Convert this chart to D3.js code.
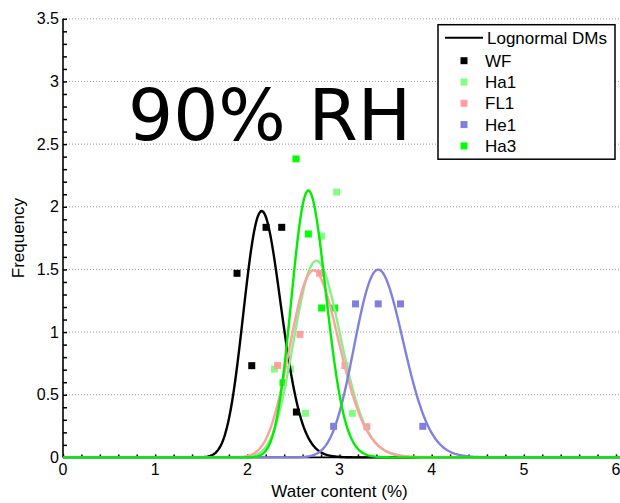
<!DOCTYPE html>
<html>
<head>
  <title>Water content 90% RH</title>
  <script src="https://cdn.jsdelivr.net/npm/d3@7"></script>
  <style>
    body { margin: 0; background: #fff; }
    text { font-family: "Liberation Sans", Arial, sans-serif; fill: #000; }
  </style>
</head>
<body>
  <div id="chart"></div>
  <script>
    // series names and colours (legend order)
    const seriesNames = ["WF", "Ha1", "FL1", "He1", "Ha3"];
    const pointColors = ["#000000", "#80ff80", "#ff9f9f", "#7f7fdf", "#00ff00"];
    const lineColors = ["#000000", "#88f088", "#ff9f9f", "#8080e0", "#00ee00"];

    // measured frequencies (x = water content %, y = frequency)
    const wfX = [1.888, 2.048, 2.203, 2.373, 2.532];
    const wfY = [1.469, 0.732, 1.836, 1.836, 0.362];
    const ha1X = [2.294, 2.467, 2.630, 2.806, 2.969, 3.139];
    const ha1Y = [0.705, 0.705, 0.352, 1.765, 2.117, 0.352];
    const fl1X = [2.329, 2.571, 2.784, 3.059, 3.297];
    const fl1Y = [0.733, 0.982, 1.470, 0.733, 0.245];
    const he1X = [2.936, 3.174, 3.420, 3.662, 3.904];
    const he1Y = [0.248, 1.225, 1.225, 1.225, 0.248];
    const ha3X = [2.387, 2.528, 2.662, 2.806, 2.947];
    const ha3Y = [0.596, 2.382, 1.783, 1.192, 1.192];

    // fitted lognormal distributions: mode and log-sigma per series
    const fitMode = [2.156, 2.749, 2.719, 3.420, 2.662];
    const fitSigma = [0.0937, 0.0921, 0.0978, 0.0776, 0.0702];

    const xTicks = [0, 1, 2, 3, 4, 5, 6];
    const yTicks = [0, 0.5, 1, 1.5, 2, 2.5, 3, 3.5];

    const width = 620, height = 503;
    const x = d3.scaleLinear().domain([0, 6]).range([63, 616]);
    const y = d3.scaleLinear().domain([0, 3.5]).range([457.4, 18.8]);

    const svg = d3.select("#chart").append("svg")
      .attr("width", width).attr("height", height);

    // dotted grid lines
    svg.append("g").selectAll("line")
      .data(yTicks.filter(d => d > 0))
      .join("line")
      .attr("x1", x(0)).attr("x2", width)
      .attr("y1", d => y(d)).attr("y2", d => y(d))
      .attr("stroke", "#999").attr("stroke-width", 1)
      .attr("stroke-dasharray", "1,2");

    // big annotation
    svg.append("text")
      .attr("x", 128).attr("y", 139.5)
      .style("font-family", "'DejaVu Sans', sans-serif")
      .style("font-size", "71px")
      .text("90% RH");

    // axes with inward ticks
    const yAxis = svg.append("g").attr("transform", `translate(${x(0)},0)`);
    yAxis.call(d3.axisRight(y).ticks(35).tickSize(4).tickFormat(""))
      .call(g => g.select(".domain").remove());
    yAxis.selectAll("line").attr("stroke", "#000").attr("stroke-width", 1.5);
    yAxis.append("line").attr("y1", y(3.5)).attr("y2", y(0))
      .attr("stroke", "#000").attr("stroke-width", 1.6);
    yAxis.append("g").selectAll("text")
      .data(yTicks).join("text")
      .attr("x", -4).attr("y", d => y(d)).attr("dy", "0.35em")
      .attr("text-anchor", "end").attr("fill", "#000").style("font-size", "16px")
      .text(d => d);

    const xAxis = svg.append("g").attr("transform", `translate(0,${y(0)})`);
    xAxis.call(d3.axisTop(x).ticks(30).tickSize(3).tickFormat(""))
      .call(g => g.select(".domain").remove());
    xAxis.selectAll("line").attr("stroke", "#000").attr("stroke-width", 1.5);
    xAxis.append("line").attr("x1", x(0)).attr("x2", width)
      .attr("stroke", "#000").attr("stroke-width", 1.6);
    xAxis.append("g").selectAll("text")
      .data(xTicks).join("text")
      .attr("x", d => x(d)).attr("y", 18)
      .attr("text-anchor", "middle").attr("fill", "#000").style("font-size", "16px")
      .text(d => d);

    svg.append("text")
      .attr("x", x(3)).attr("y", 497)
      .attr("text-anchor", "middle").style("font-size", "17px")
      .text("Water content (%)");
    svg.append("text")
      .attr("transform", `translate(24,${y(1.75)}) rotate(-90)`)
      .attr("text-anchor", "middle").style("font-size", "17px")
      .text("Frequency");

    // data squares (drawn under the fitted curves)
    const pointsX = [wfX, ha1X, fl1X, he1X, ha3X];
    const pointsY = [wfY, ha1Y, fl1Y, he1Y, ha3Y];
    const sq = 7;
    seriesNames.forEach((name, i) => {
      svg.append("g").selectAll("rect")
        .data(pointsX[i].map((v, j) => [v, pointsY[i][j]]))
        .join("rect")
        .attr("x", d => x(d[0]) - sq / 2)
        .attr("y", d => y(d[1]) - sq / 2)
        .attr("width", sq).attr("height", sq)
        .attr("fill", pointColors[i]);
    });

    // lognormal curves
    const xs = d3.range(0.005, 6.5, 0.01);
    const lognormal = (v, m, s) => {
      const mu = Math.log(m) + s * s;
      return Math.exp(-Math.pow(Math.log(v) - mu, 2) / (2 * s * s)) / (v * s * Math.sqrt(2 * Math.PI));
    };
    const line = d3.line().x(d => x(d[0])).y(d => y(d[1]));
    const curves = svg.append("g");
    seriesNames.forEach((name, i) => {
      curves.append("path")
        .datum(xs.map(v => [v, lognormal(v, fitMode[i], fitSigma[i])]))
        .attr("d", line)
        .attr("fill", "none")
        .attr("stroke", lineColors[i])
        .attr("stroke-width", 2.4);
    });

    // legend
    const legend = svg.append("g");
    legend.append("rect")
      .attr("x", 438).attr("y", 24.7).attr("width", 177).attr("height", 134.5)
      .attr("fill", "#fff").attr("stroke", "#000").attr("stroke-width", 1.5);
    legend.append("line")
      .attr("x1", 445).attr("x2", 483).attr("y1", 37.7).attr("y2", 37.7)
      .attr("stroke", "#000").attr("stroke-width", 2);
    legend.append("text")
      .attr("x", 487).attr("y", 37.7).attr("dy", "0.36em")
      .style("font-size", "17px").text("Lognormal DMs");
    seriesNames.forEach((name, i) => {
      const ly = 60.7 + i * 21.3;
      legend.append("rect")
        .attr("x", 464 - 3.5).attr("y", ly - 3.5).attr("width", 7).attr("height", 7)
        .attr("fill", pointColors[i]);
      legend.append("text")
        .attr("x", 485).attr("y", ly).attr("dy", "0.36em")
        .style("font-size", "17px").text(name);
    });
  </script>
</body>
</html>
